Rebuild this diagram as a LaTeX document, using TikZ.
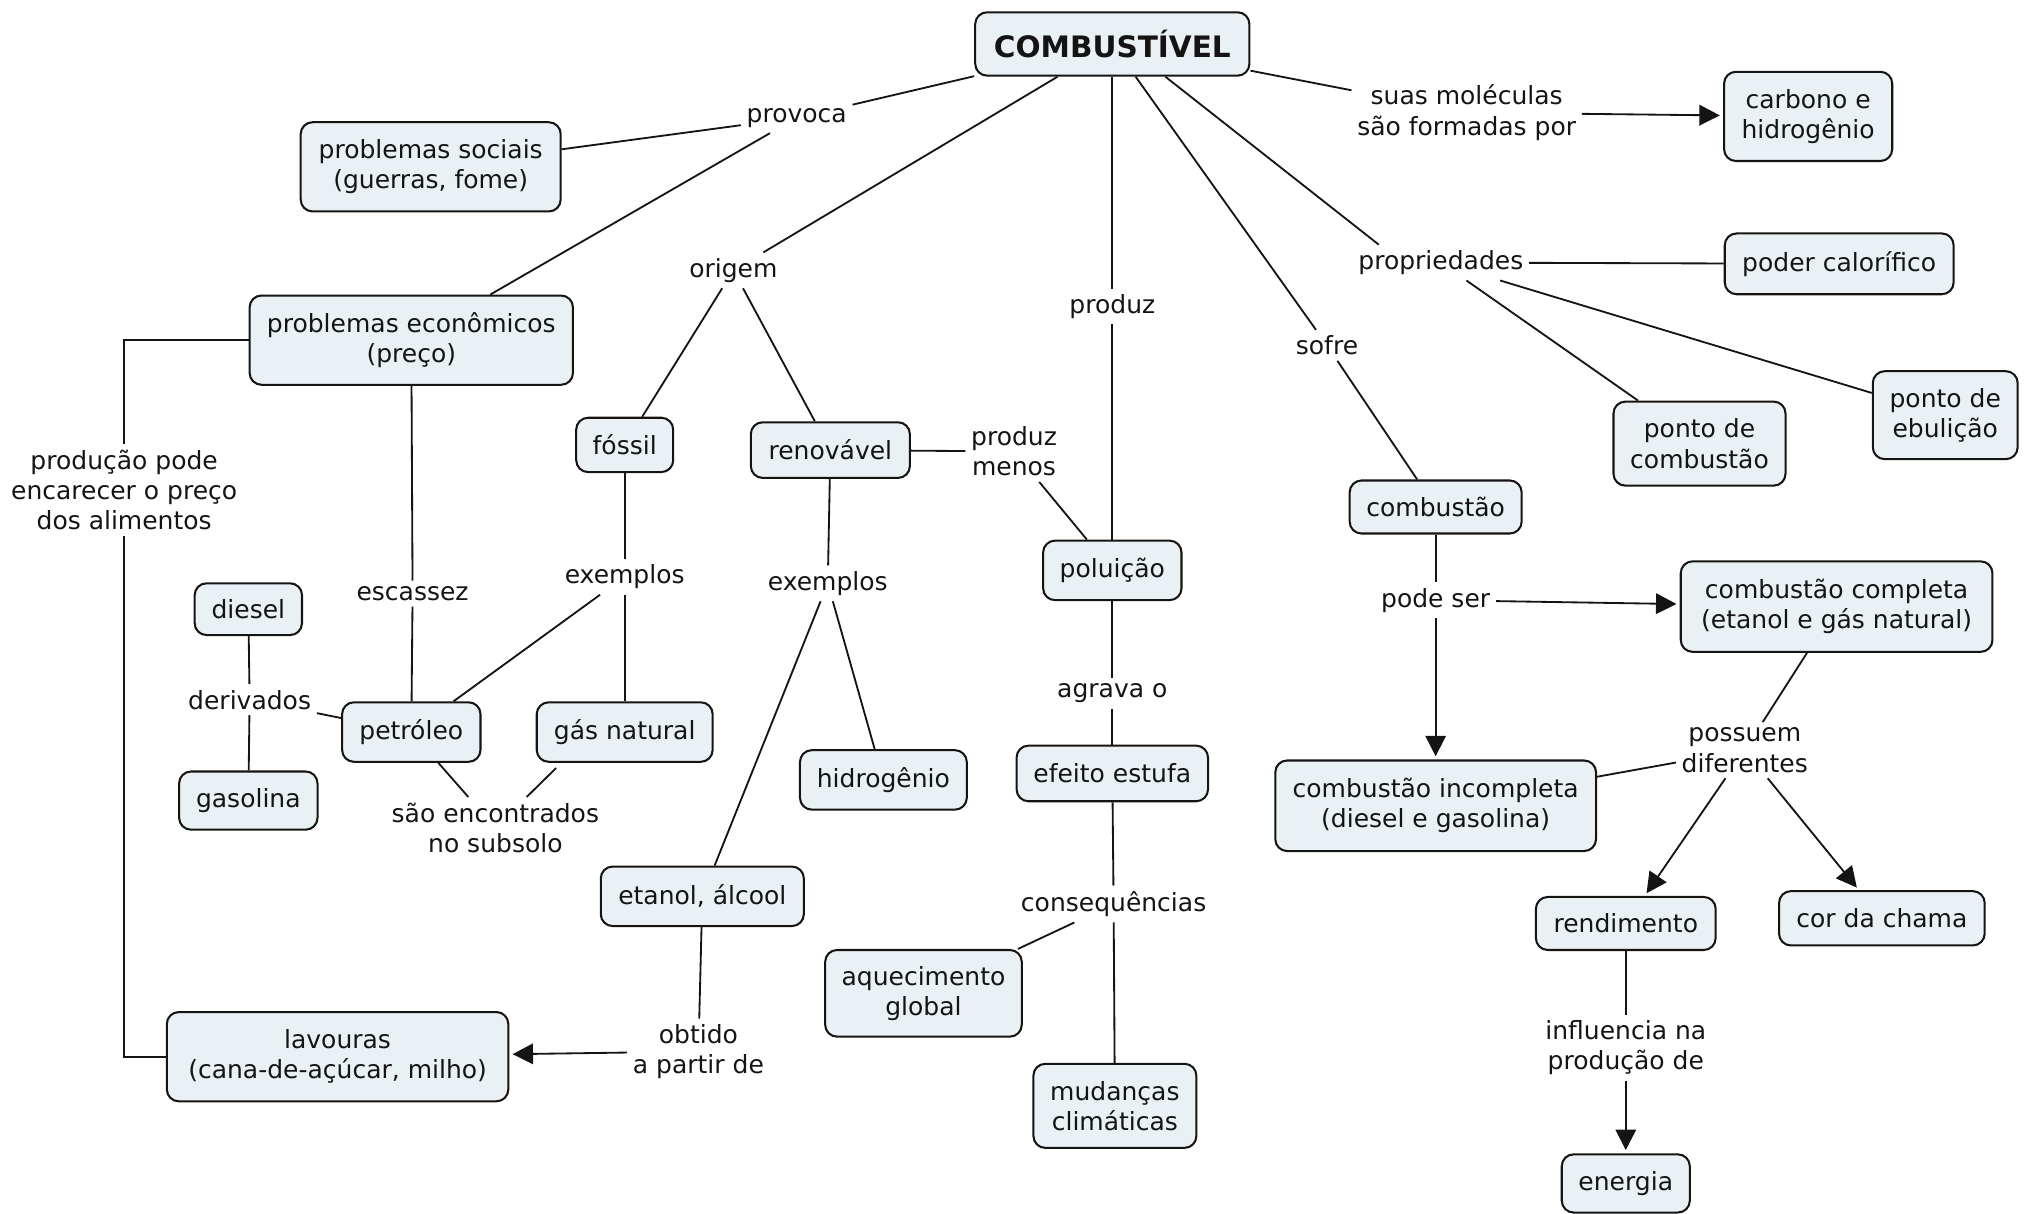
\documentclass[tikz,border=0pt]{standalone}
\usepackage{fontspec}
\setmainfont{DejaVu Sans}
\usetikzlibrary{arrows.meta}
\definecolor{conceptfill}{RGB}{233,241,245}
\definecolor{inkline}{RGB}{20,20,20}

\begin{document}
\begin{tikzpicture}[x=0.6pt,y=-0.6pt,
  every node/.style={font=\fontsize{11.6}{14}\selectfont, align=center, text=inkline},
  concept/.style 2 args={draw=inkline, fill=conceptfill, line width=0.95pt,
    rounded corners=5.5pt, minimum width=#1*0.6pt, minimum height=#2*0.6pt, inner sep=1pt},
  phrase/.style={inner sep=2.5pt},
  link/.style={draw=inkline, line width=0.85pt},
  arrowlink/.style={link, -{Triangle[length=9.5pt,width=9.5pt]}, shorten >=1.5pt},
]
\useasboundingbox (0,0) rectangle (1568,938);

% concepts
\node[concept={212}{49}, font=\fontsize{13.7}{16}\selectfont\bfseries] (comb) at (860,34) {COMBUSTÍVEL};
\node[concept={201}{69}] (psoc) at (333,129) {problemas sociais\\(guerras, fome)};
\node[concept={130}{69}] (carb) at (1398,90) {carbono e\\hidrogênio};
\node[concept={177}{47}] (poder) at (1422,204) {poder calorífico};
\node[concept={112}{68}] (ebul) at (1504,321) {ponto de\\ebulição};
\node[concept={133}{65}] (pcomb) at (1314,343) {ponto de\\combustão};
\node[concept={250}{69}] (pecon) at (318,263) {problemas econômicos\\(preço)};
\node[concept={75}{42}] (fossil) at (483,344) {fóssil};
\node[concept={123}{43}] (renov) at (642,348) {renovável};
\node[concept={107}{46}] (polu) at (860,441) {poluição};
\node[concept={133}{41}] (cbust) at (1110,392) {combustão};
\node[concept={241}{70}] (compl) at (1420,469) {combustão completa\\(etanol e gás natural)};
\node[concept={248}{70}] (incomp) at (1110,623) {combustão incompleta\\(diesel e gasolina)};
\node[concept={83}{40}] (diesel) at (192,471) {diesel};
\node[concept={107}{46}] (petro) at (318,566) {petróleo};
\node[concept={136}{46}] (gas) at (483,566) {gás natural};
\node[concept={107}{45}] (gasol) at (192,619) {gasolina};
\node[concept={129}{46}] (hidro) at (683,603) {hidrogênio};
\node[concept={148}{43}] (efeito) at (860,598) {efeito estufa};
\node[concept={157}{46}] (etanol) at (543,693) {etanol, álcool};
\node[concept={152}{67}] (aquec) at (714,768) {aquecimento\\global};
\node[concept={264}{69}] (lav) at (261,817) {lavouras\\(cana-de-açúcar, milho)};
\node[concept={126}{65}] (mudan) at (862,855) {mudanças\\climáticas};
\node[concept={139}{41}] (rend) at (1257,714) {rendimento};
\node[concept={159}{42}] (chama) at (1455,710) {cor da chama};
\node[concept={99}{45}] (energ) at (1257,915) {energia};

% linking phrases
\node[phrase] (provoca) at (616,91) {provoca};
\node[phrase] (molec) at (1134,87) {suas moléculas\\são formadas por};
\node[phrase] (origem) at (567,209) {origem};
\node[phrase] (produz) at (860,237) {produz};
\node[phrase] (sofre) at (1026,267) {sofre};
\node[phrase] (propr) at (1114,203) {propriedades};
\node[phrase] (pmenos) at (784,349) {produz\\menos};
\node[phrase] (escas) at (319,459) {escassez};
\node[phrase] (exf) at (483,446) {exemplos};
\node[phrase] (exr) at (640,451) {exemplos};
\node[phrase] (deriv) at (193,541) {derivados};
\node[phrase] (subsolo) at (383,640) {são encontrados\\no subsolo};
\node[phrase] (agrava) at (860,536) {agrava o};
\node[phrase] (conseq) at (861,699) {consequências};
\node[phrase] (podeser) at (1110,464) {pode ser};
\node[phrase] (possuem) at (1349,580) {possuem\\diferentes};
\node[phrase] (encarece) at (96,379) {produção pode\\encarecer o preço\\dos alimentos};
\node[phrase] (obtido) at (540,813) {obtido\\a partir de};
\node[phrase] (influi) at (1257,810) {influencia na\\produção de};

% connectors
\draw[link] (comb) -- (provoca);
\draw[link] (provoca) -- (psoc);
\draw[link] (provoca) -- (pecon);
\draw[link] (comb) -- (origem);
\draw[link] (origem) -- (fossil);
\draw[link] (origem) -- (renov);
\draw[link] (comb) -- (produz);
\draw[link] (produz) -- (polu);
\draw[link] (comb) -- (sofre);
\draw[link] (sofre) -- (cbust);
\draw[link] ([xshift=24.6pt]comb.south) -- ([xshift=-28.8pt]propr.north);
\draw[link] (comb) -- (molec);
\draw[arrowlink] (molec) -- (carb);
\draw[link] (propr) -- (poder);
\draw[link] (propr) -- (pcomb);
\draw[link] (propr) -- (ebul);
\draw[link] (pecon) -- (escas);
\draw[link] (escas) -- (petro);
\draw[link] (pecon.west) -| (encarece.north);
\draw[link] (encarece.south) |- (lav.west);
\draw[link] (fossil) -- (exf);
\draw[link] (exf) -- (petro);
\draw[link] (exf) -- (gas);
\draw[link] (renov) -- (exr);
\draw[link] (exr) -- (hidro);
\draw[link] (exr) -- (etanol);
\draw[link] (renov) -- (pmenos);
\draw[link] (pmenos) -- (polu);
\draw[link] (polu) -- (agrava);
\draw[link] (agrava) -- (efeito);
\draw[link] (efeito) -- (conseq);
\draw[link] (conseq) -- (aquec);
\draw[link] (conseq) -- (mudan);
\draw[link] (petro) -- (deriv);
\draw[link] (deriv) -- (diesel);
\draw[link] (deriv) -- (gasol);
\draw[link] (petro) -- (subsolo);
\draw[link] ([xshift=-31.8pt,yshift=-2.4pt]gas.south) -- (subsolo);
\draw[link] (etanol) -- (obtido);
\draw[arrowlink] (obtido) -- (lav);
\draw[link] (cbust) -- (podeser);
\draw[arrowlink] (podeser) -- (compl);
\draw[arrowlink] (podeser) -- (incomp);
\draw[link] (compl) -- (possuem);
\draw[link] (possuem) -- (incomp);
\draw[arrowlink] (possuem) -- (rend);
\draw[arrowlink] (possuem) -- (chama);
\draw[link] (rend) -- (influi);
\draw[arrowlink] (influi) -- (energ);
\end{tikzpicture}
\end{document}
